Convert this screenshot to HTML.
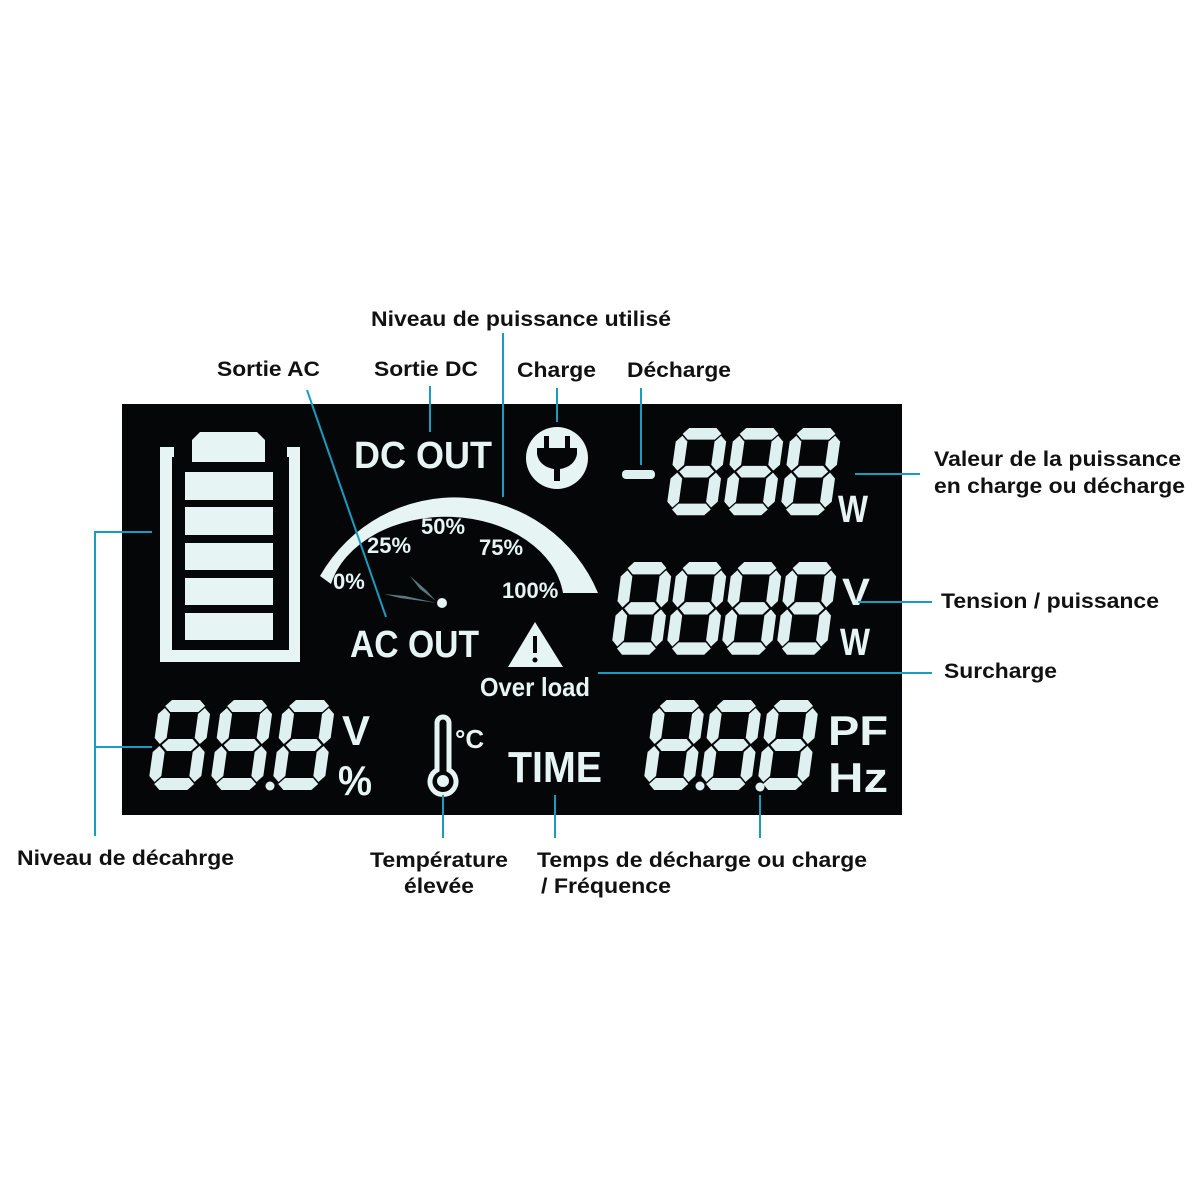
<!DOCTYPE html>
<html><head><meta charset="utf-8"><style>
html,body{margin:0;padding:0;background:#fff;width:1200px;height:1200px;overflow:hidden}
svg{display:block}
.lb{font-family:"Liberation Sans",sans-serif;font-weight:bold;font-size:21px;fill:#111}
.p{font-family:"Liberation Sans",sans-serif;font-weight:bold;fill:#e6f4f4}
</style></head><body>
<svg width="1200" height="1200" viewBox="0 0 1200 1200" xmlns="http://www.w3.org/2000/svg">
<defs>
<g id="dg" fill="#dff0f0">
<polygon points="6,6 12,0 40,0 46,6 40,12 12,12"/>
<polygon points="8,45 14,39 38,39 44,45 38,51 14,51"/>
<polygon points="6,84 12,78 40,78 46,84 40,90 12,90"/>
<polygon points="6,8 12,14 12,38 6,44 0,38 0,14"/>
<polygon points="46,8 52,14 52,38 46,44 40,38 40,14"/>
<polygon points="6,46 12,52 12,76 6,82 0,76 0,52"/>
<polygon points="46,46 52,52 52,76 46,82 40,76 40,52"/>
</g>
<g id="d"><g transform="translate(12,0) skewX(-8)"><use href="#dg"/></g></g>
</defs>
<rect x="0" y="0" width="1200" height="1200" fill="#fff"/>
<rect x="122" y="404" width="780" height="411" fill="#050608"/>

<!-- battery -->
<g fill="#e6f4f4">
<path d="M160 447 h14 v10 h-2 v193 h117 v-193 h-2 v-10 h13 v215 h-140 z"/>
<path d="M192 462 v-22 l8 -8 h57 l8 8 v22 z"/>
<rect x="185" y="472" width="88" height="28"/>
<rect x="185" y="507" width="88" height="28"/>
<rect x="185" y="543" width="88" height="27"/>
<rect x="185" y="578" width="88" height="27"/>
<rect x="185" y="613" width="88" height="27"/>
</g>

<!-- text in panel -->
<text class="p" x="354" y="468" font-size="38" textLength="138" lengthAdjust="spacingAndGlyphs">DC  OUT</text>
<text class="p" x="350" y="657" font-size="38" textLength="129" lengthAdjust="spacingAndGlyphs">AC OUT</text>
<text class="p" x="508" y="782" font-size="44" textLength="94" lengthAdjust="spacingAndGlyphs">TIME</text>
<text class="p" x="480" y="696" font-size="26" textLength="110" lengthAdjust="spacingAndGlyphs">Over load</text>
<!-- plug -->
<circle cx="557" cy="458" r="31" fill="#e6f4f4"/>
<path d="M537 448 h40 v6 a20 17 0 0 1 -17 15 v12 h-6 v-12 a20 17 0 0 1 -17 -15 z" fill="#050608"/>
<rect x="544" y="436" width="5" height="14" fill="#050608"/>
<rect x="565" y="436" width="5" height="14" fill="#050608"/>
<!-- warning -->
<polygon points="535,622 508,667 563,667" fill="#e6f4f4"/>
<rect x="533" y="636" width="4" height="17" fill="#050608"/><circle cx="535" cy="660" r="2.5" fill="#050608"/>
<!-- gauge -->
<path d="M320 576 A155 155 0 0 1 598 593 L563 593 A118 87 0 0 0 331 584 Z" fill="#e6f4f4"/>
<text class="p" x="333" y="589" font-size="22">0%</text>
<text class="p" x="367" y="553" font-size="22">25%</text>
<text class="p" x="421" y="534" font-size="22">50%</text>
<text class="p" x="479" y="555" font-size="22">75%</text>
<text class="p" x="502" y="598" font-size="22">100%</text>
<polygon points="384,594 405,596 437,603 400,598" fill="#5a7880"/>
<polygon points="410,576 426,590 436,601 420,589" fill="#5a7880"/>
<circle cx="442" cy="603" r="5" fill="#e6f4f4"/>
<!-- thermometer -->
<path d="M437 723 a6 6 0 0 1 12 0 v47 a13 13 0 1 1 -12 0 z" fill="none" stroke="#e6f4f4" stroke-width="5"/>
<circle cx="443" cy="781" r="6" fill="#e6f4f4"/>
<text class="p" x="455" y="748" font-size="26">°C</text>

<!-- digits top -->
<rect x="622" y="470" width="33" height="9" rx="4" fill="#dff0f0"/>
<use href="#d" transform="translate(666,428) scale(0.97)"/>
<use href="#d" transform="translate(723,428) scale(0.97)"/>
<use href="#d" transform="translate(780,428) scale(0.97)"/>
<text class="p" x="838" y="522" font-size="38" textLength="30" lengthAdjust="spacingAndGlyphs">W</text>
<!-- middle -->
<use href="#d" transform="translate(611,562) scale(0.97,1.03)"/>
<use href="#d" transform="translate(666,562) scale(0.97,1.03)"/>
<use href="#d" transform="translate(721,562) scale(0.97,1.03)"/>
<use href="#d" transform="translate(776,562) scale(0.97,1.03)"/>
<text class="p" x="842" y="605" font-size="38" textLength="28" lengthAdjust="spacingAndGlyphs">V</text>
<text class="p" x="840" y="655" font-size="38" textLength="30" lengthAdjust="spacingAndGlyphs">W</text>
<!-- bottom right -->
<use href="#d" transform="translate(643,700) scale(0.98,1.0)"/>
<use href="#d" transform="translate(700,700) scale(0.98,1.0)"/>
<use href="#d" transform="translate(757,700) scale(0.98,1.0)"/>
<circle cx="700" cy="786" r="4.5" fill="#dff0f0"/><circle cx="760" cy="787" r="4.5" fill="#dff0f0"/>
<text class="p" x="828" y="745" font-size="42" textLength="60" lengthAdjust="spacingAndGlyphs">PF</text>
<text class="p" x="828" y="792" font-size="42" textLength="60" lengthAdjust="spacingAndGlyphs">Hz</text>
<!-- bottom left -->
<use href="#d" transform="translate(148,700) scale(1.0)"/>
<use href="#d" transform="translate(210,700) scale(1.0)"/>
<use href="#d" transform="translate(272,700) scale(1.0)"/>
<circle cx="270" cy="786" r="4.5" fill="#dff0f0"/>
<text class="p" x="342" y="745" font-size="42" textLength="28" lengthAdjust="spacingAndGlyphs">V</text>
<text class="p" x="338" y="795" font-size="42" textLength="34" lengthAdjust="spacingAndGlyphs">%</text>

<!-- connectors -->
<g stroke="#1a9cc0" stroke-width="2" fill="none">
<line x1="307" y1="390" x2="386" y2="617"/>
<line x1="430" y1="386" x2="430" y2="432"/>
<line x1="503" y1="333" x2="503" y2="497"/>
<line x1="557" y1="388" x2="557" y2="422"/>
<line x1="641" y1="388" x2="641" y2="465"/>
<line x1="855" y1="474" x2="920" y2="474"/>
<line x1="858" y1="602" x2="932" y2="602"/>
<line x1="598" y1="673" x2="932" y2="673"/>
<polyline points="152,532 95,532 95,836"/>
<line x1="95" y1="747" x2="152" y2="747"/>
<line x1="443" y1="795" x2="443" y2="838"/>
<line x1="555" y1="795" x2="555" y2="838"/>
<line x1="760" y1="795" x2="760" y2="838"/>
</g>

<!-- labels -->
<text class="lb" x="371" y="326" textLength="300" lengthAdjust="spacingAndGlyphs">Niveau de puissance utilisé</text>
<text class="lb" x="217" y="376" textLength="103" lengthAdjust="spacingAndGlyphs">Sortie AC</text>
<text class="lb" x="374" y="376" textLength="104" lengthAdjust="spacingAndGlyphs">Sortie DC</text>
<text class="lb" x="517" y="377" textLength="79" lengthAdjust="spacingAndGlyphs">Charge</text>
<text class="lb" x="627" y="377" textLength="104" lengthAdjust="spacingAndGlyphs">Décharge</text>
<text class="lb" x="934" y="466" textLength="247" lengthAdjust="spacingAndGlyphs">Valeur de la puissance</text>
<text class="lb" x="934" y="493" textLength="251" lengthAdjust="spacingAndGlyphs">en charge ou décharge</text>
<text class="lb" x="941" y="608" textLength="218" lengthAdjust="spacingAndGlyphs">Tension / puissance</text>
<text class="lb" x="944" y="678" textLength="113" lengthAdjust="spacingAndGlyphs">Surcharge</text>
<text class="lb" x="17" y="865" textLength="217" lengthAdjust="spacingAndGlyphs">Niveau de décahrge</text>
<text class="lb" x="370" y="867" textLength="138" lengthAdjust="spacingAndGlyphs">Température</text>
<text class="lb" x="404" y="893" textLength="70" lengthAdjust="spacingAndGlyphs">élevée</text>
<text class="lb" x="537" y="867" textLength="330" lengthAdjust="spacingAndGlyphs">Temps de décharge ou charge</text>
<text class="lb" x="541" y="893" textLength="130" lengthAdjust="spacingAndGlyphs">/ Fréquence</text>
</svg>
</body></html>
